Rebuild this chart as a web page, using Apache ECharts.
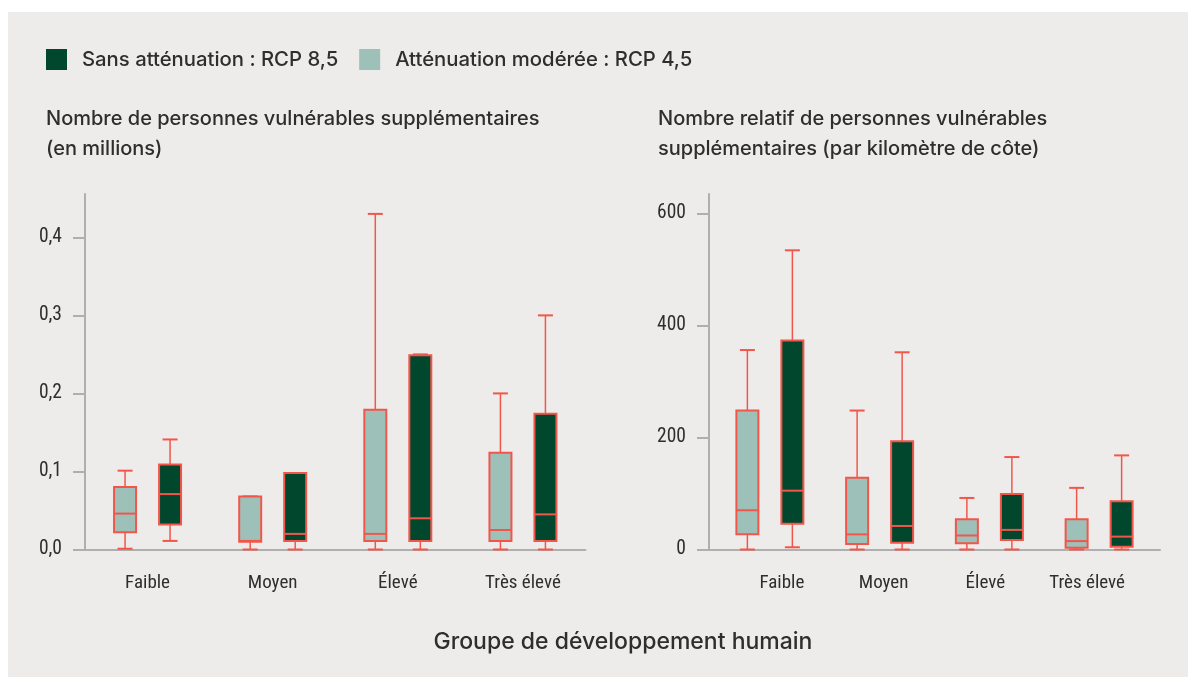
<!DOCTYPE html>
<html>
<head>
<meta charset="utf-8">
<script src="https://cdn.jsdelivr.net/npm/echarts@6/dist/echarts.min.js"></script>
<style>
html,body{margin:0;padding:0;background:#ffffff;}
#chart{width:1188px;height:677px;}
</style>
</head>
<body>
<div id="chart"></div>
<script>
// ---- Data ----
const categories = ['Faible', 'Moyen', 'Élevé', 'Très élevé'];
const seriesNames = ['Sans atténuation : RCP 8,5', 'Atténuation modérée : RCP 4,5'];
const leftTitle = 'Nombre de personnes vulnérables supplémentaires\n(en millions)';
const rightTitle = 'Nombre relatif de personnes vulnérables\nsupplémentaires (par kilomètre de côte)';
const xTitle = 'Groupe de développement humain';
const leftTicks = [0, 0.1, 0.2, 0.3, 0.4];
const rightTicks = [0, 200, 400, 600];

// [min, Q1, median, Q3, max] per category
const absModerate = [
  [0.001, 0.022, 0.046, 0.080, 0.101],
  [0.000, 0.010, 0.011, 0.068, 0.068],
  [0.000, 0.011, 0.020, 0.179, 0.430],
  [0.000, 0.011, 0.025, 0.124, 0.200]
];
const absNoMitigation = [
  [0.011, 0.032, 0.071, 0.109, 0.141],
  [0.000, 0.011, 0.020, 0.098, 0.098],
  [0.000, 0.011, 0.040, 0.249, 0.250],
  [0.000, 0.011, 0.045, 0.174, 0.300]
];
const relModerate = [
  [0, 27, 70, 248, 356],
  [0, 10, 27, 128, 248],
  [0, 11, 25, 54, 92],
  [0, 3, 15, 54, 110]
];
const relNoMitigation = [
  [4, 46, 105, 373, 534],
  [0, 12, 42, 193, 352],
  [0, 17, 35, 99, 165],
  [0, 5, 23, 86, 168]
];

// ---- Style ----
const DARK = '#00472D';
const LIGHT = '#9DC1B9';
const RED = '#F2564B';
const AXIS = '#AFAFAF';
const TXT = '#2E2E2E';
const NARROW = '"Roboto Condensed", "Open Sans", Roboto, sans-serif';
const SANS = 'Inter, "Noto Sans", sans-serif';

const leftMax = 0.4555;
const rightMax = 634.5;

function rows(arr) { return arr.map((r, i) => [i].concat(r)); }

function makeRender(offset) {
  return function (params, api) {
    const c = api.value(0);
    const cx = api.coord([c, 0])[0] + offset;
    const yMin = api.coord([c, api.value(1)])[1];
    const yQ1 = api.coord([c, api.value(2)])[1];
    const yMed = api.coord([c, api.value(3)])[1];
    const yQ3 = api.coord([c, api.value(4)])[1];
    const yMax = api.coord([c, api.value(5)])[1];
    const bw = 22, cw = 15;
    const fill = api.visual('color');
    const ls = { stroke: RED, lineWidth: 1.5 };
    return {
      type: 'group',
      children: [
        { type: 'line', shape: { x1: cx, y1: yMax, x2: cx, y2: yQ3 }, style: ls },
        { type: 'line', shape: { x1: cx, y1: yQ1, x2: cx, y2: yMin }, style: ls },
        { type: 'line', shape: { x1: cx - cw / 2, y1: yMax, x2: cx + cw / 2, y2: yMax }, style: { stroke: RED, lineWidth: 2 } },
        { type: 'line', shape: { x1: cx - cw / 2, y1: yMin, x2: cx + cw / 2, y2: yMin }, style: { stroke: RED, lineWidth: 2 } },
        { type: 'rect', shape: { x: cx - bw / 2, y: yQ3, width: bw, height: yQ1 - yQ3 }, style: { fill: fill, stroke: RED, lineWidth: 2 } },
        { type: 'line', shape: { x1: cx - bw / 2, y1: yMed, x2: cx + bw / 2, y2: yMed }, style: { stroke: RED, lineWidth: 2 } }
      ]
    };
  };
}

function boxSeries(name, data, xi, yi, offset, color) {
  return {
    type: 'custom',
    name: name,
    xAxisIndex: xi,
    yAxisIndex: yi,
    clip: false,
    itemStyle: { color: color },
    encode: { x: 0, y: [1, 2, 3, 4, 5] },
    data: rows(data),
    renderItem: makeRender(offset),
    z: 5
  };
}

const gridTop = 194, gridHeight = 355.5;
const catLabel = { fontFamily: NARROW, fontStyle: 'condensed', fontSize: 19, color: TXT, margin: 24, interval: 0 };
const valLabelBase = { fontFamily: NARROW, fontStyle: 'condensed', fontSize: 19.5, color: TXT, margin: 23 };

const option = {
  animation: false,
  backgroundColor: 'transparent',
  graphic: [
    { type: 'rect', shape: { x: 8, y: 12, width: 1180, height: 665 }, style: { fill: '#EEECEA' }, z: -10, silent: true },
    { type: 'text', x: 623, y: 642, style: { text: xTitle, font: '500 23px ' + SANS, fill: TXT, textAlign: 'center', textVerticalAlign: 'middle' } }
  ],
  legend: {
    left: 46, top: 49, padding: 0,
    icon: 'rect', itemWidth: 21, itemHeight: 21, itemGap: 21,
    data: seriesNames,
    selectedMode: false,
    textStyle: { fontFamily: SANS, fontWeight: 500, fontSize: 20.3, color: TXT, padding: [0, 0, 0, 10] }
  },
  title: [
    { text: leftTitle, left: 46, top: 104, padding: 0,
      textStyle: { fontFamily: SANS, fontWeight: 500, fontSize: 20, lineHeight: 30, color: TXT } },
    { text: rightTitle, left: 658, top: 104, padding: 0,
      textStyle: { fontFamily: SANS, fontWeight: 500, fontSize: 20, lineHeight: 30, color: TXT } }
  ],
  grid: [
    { left: 85, top: gridTop, width: 500.5, height: gridHeight },
    { left: 709, top: gridTop, width: 451, height: gridHeight },
    { left: 715, top: gridTop, width: 439, height: gridHeight },
    { left: 731, top: gridTop, width: 407, height: gridHeight }
  ],
  xAxis: [
    { type: 'category', gridIndex: 0, data: categories,
      axisLine: { lineStyle: { color: AXIS, width: 2 } }, axisTick: { show: false },
      axisLabel: catLabel },
    { type: 'category', gridIndex: 1, data: categories,
      axisLine: { lineStyle: { color: AXIS, width: 2 } }, axisTick: { show: false },
      axisLabel: { show: false } },
    { type: 'category', gridIndex: 2, data: categories, show: false },
    { type: 'category', gridIndex: 3, data: categories,
      axisLine: { show: false }, axisTick: { show: false }, axisLabel: catLabel }
  ],
  yAxis: [
    { type: 'value', gridIndex: 0, min: 0, max: leftMax, interval: 0.1,
      axisLine: { show: true, lineStyle: { color: AXIS, width: 2 } },
      axisTick: { show: true, length: 12, lineStyle: { color: AXIS, width: 2 }, customValues: leftTicks },
      axisLabel: Object.assign({}, valLabelBase, { customValues: leftTicks,
        formatter: v => v.toFixed(1).replace('.', ',') }),
      splitLine: { show: false } },
    { type: 'value', gridIndex: 1, min: 0, max: rightMax, interval: 200,
      axisLine: { show: true, lineStyle: { color: AXIS, width: 2 } },
      axisTick: { show: true, length: 12, lineStyle: { color: AXIS, width: 2 }, customValues: rightTicks },
      axisLabel: Object.assign({}, valLabelBase, { customValues: rightTicks }),
      splitLine: { show: false } },
    { type: 'value', gridIndex: 2, min: 0, max: rightMax, show: false, splitLine: { show: false } },
    { type: 'value', gridIndex: 3, min: 0, max: 1, show: false, splitLine: { show: false } }
  ],
  series: [
    boxSeries(seriesNames[1], absModerate, 0, 0, -22.5, LIGHT),
    boxSeries(seriesNames[0], absNoMitigation, 0, 0, 22.5, DARK),
    boxSeries(seriesNames[1], relModerate, 2, 2, -22.5, LIGHT),
    boxSeries(seriesNames[0], relNoMitigation, 2, 2, 22.5, DARK)
  ]
};

const chart = echarts.init(document.getElementById('chart'), null, { renderer: 'canvas' });
chart.setOption(option);
</script>
</body>
</html>
